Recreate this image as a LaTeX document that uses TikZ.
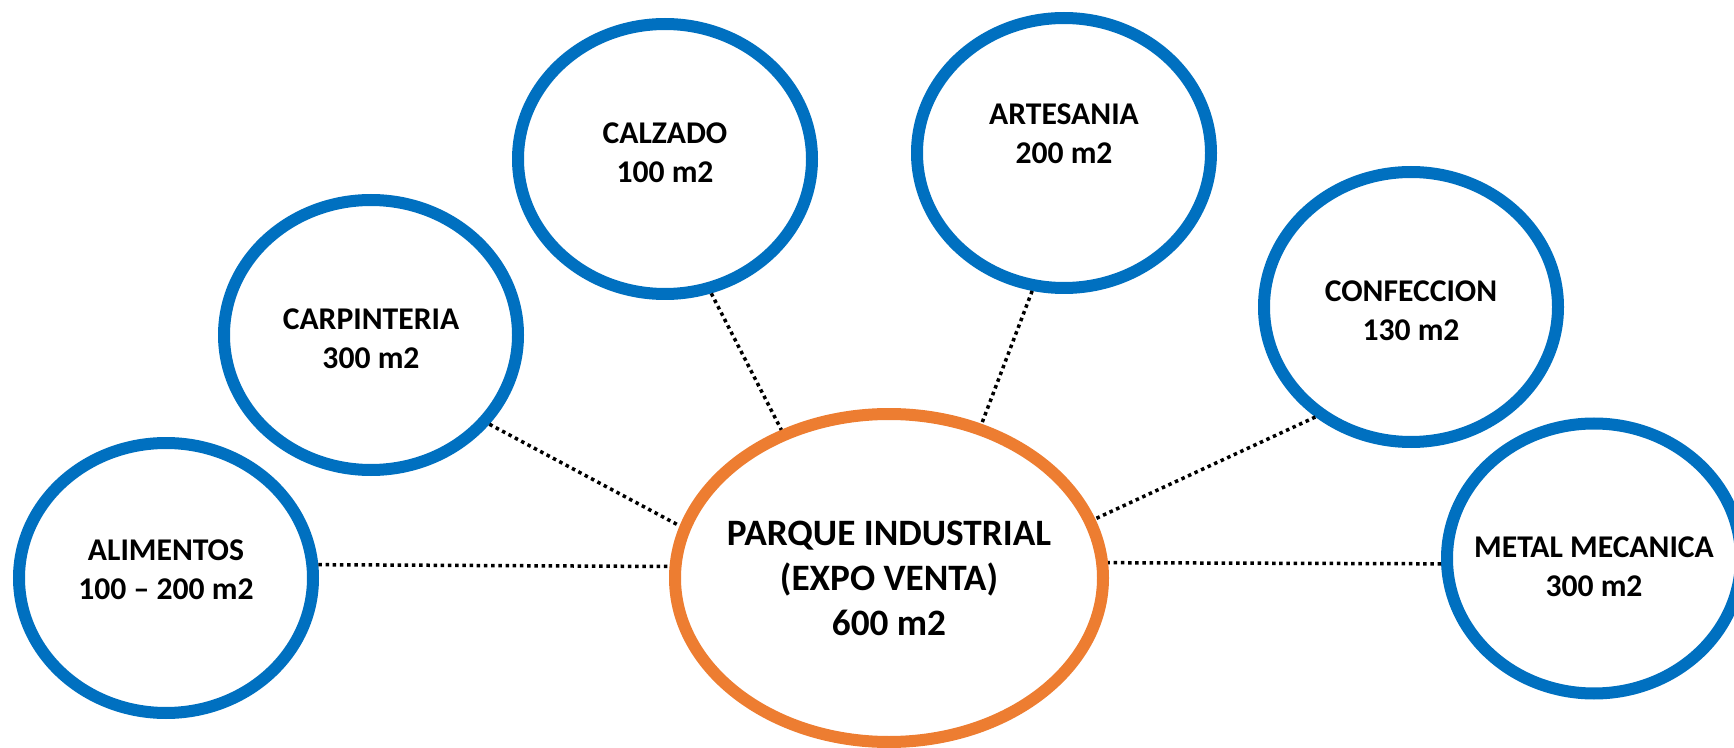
\documentclass[tikz,border=0pt]{standalone}
\usepackage{fontspec}
\setmainfont{Carlito}
\usetikzlibrary{shapes}
\usetikzlibrary{positioning}
\definecolor{azul}{HTML}{0070C0}
\definecolor{naranja}{HTML}{ED7D31}
\tikzstyle{area} = [ellipse,fill=white,draw=azul,line width=0.12cm,inner sep=0pt,
inner xsep=-3mm, minimum width=2.94cm, minimum height=2.70cm, align=center,
font=\fontsize{9}{11.1}\selectfont\bfseries]
\tikzstyle{hub} = [area,draw=naranja,minimum width=4.28cm, minimum height=3.28cm,
font=\fontsize{10.6}{12.8}\selectfont\bfseries]
\tikzstyle{link} = [draw=black,line width=0.035cm,dash pattern=on 0.035cm off 0.037cm]
\newcommand{\enlace}[3][]{ %
  % Connect all nodes #2 to all nodes #3.
  \foreach \x in {#2} { %
    \foreach \y in {#3} { %
      \path (\x) edge [link,#1] (\y) ;%
    } ;
  } ;
}
\begin{document}
\begin{tikzpicture}[on grid]
  \clip (0,0) rectangle (17.34,7.47);
  \node[hub] (parque) at (8.89,1.69) {PARQUE INDUSTRIAL\\(EXPO VENTA)\\600 m2};
  \node[area, left=7.23cm of parque, text depth=0.16cm] (alim) {ALIMENTOS\\100 – 200 m2};
  \node[area, above left=2.43cm and 5.18cm of parque, text height=0.67cm] (carp) {CARPINTERIA\\300 m2};
  \node[area, above left=4.19cm and 2.24cm of parque, text depth=0.12cm] (calz) {CALZADO\\100 m2};
  \node[area, above right=4.25cm and 1.75cm of parque, text depth=0.38cm] (arte) {ARTESANIA\\200 m2};
  \node[area, above right=2.71cm and 5.22cm of parque, text height=0.67cm] (conf) {CONFECCION\\130 m2};
  \node[area, above right=0.195cm and 7.05cm of parque, text height=0.77cm] (metal) {METAL MECANICA\\300 m2};

  \enlace {alim.5} {parque.177};
  \enlace {carp.-37} {parque.166};
  \enlace {calz.-71} {parque.126};
  \enlace {arte.-103} {parque.59};
  \enlace {conf.-131} {parque.16};
  \enlace {metal.182} {parque.4.5};
\end{tikzpicture}
\end{document}
